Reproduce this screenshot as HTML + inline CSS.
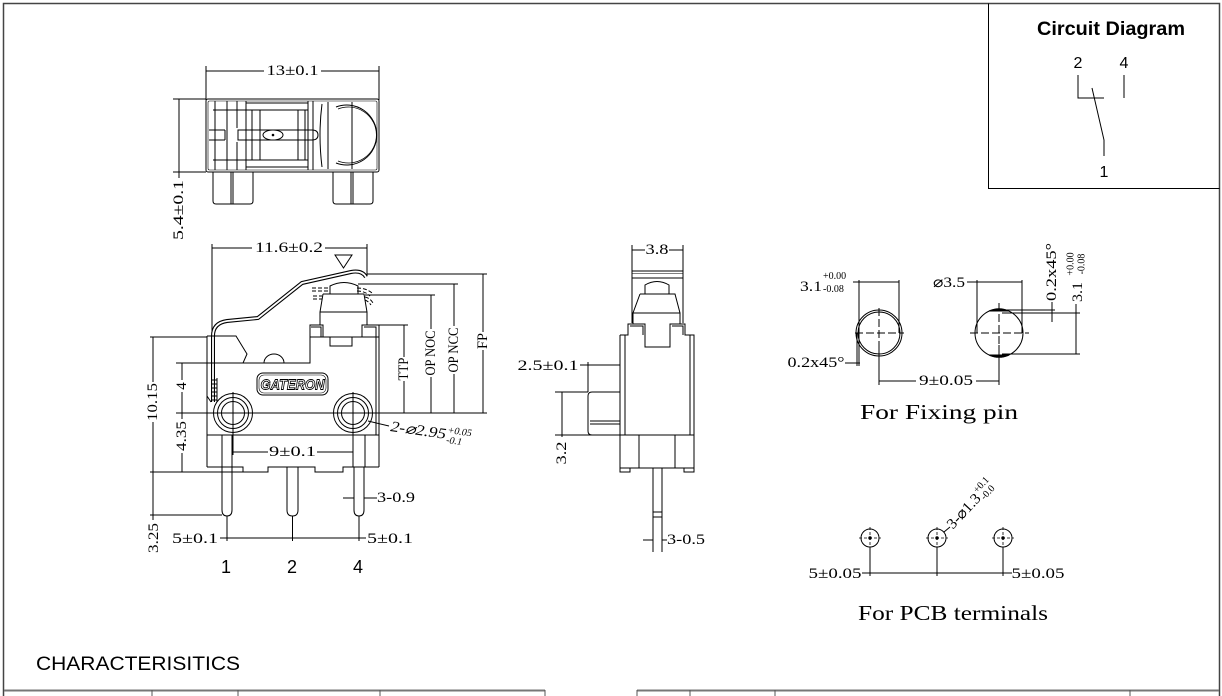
<!DOCTYPE html>
<html><head><meta charset="utf-8">
<style>
html,body{margin:0;padding:0;background:#fff;}
svg{display:block;}
.d{font-family:"Liberation Serif","Noto Serif CJK SC",serif;font-size:15px;fill:#000;stroke:none;}
.s{font-family:"Liberation Serif","Noto Serif CJK SC",serif;font-size:10px;fill:#000;stroke:none;}
.a{font-family:"Liberation Sans",Arial,sans-serif;fill:#000;stroke:none;}
</style></head><body>
<svg width="1222" height="696" viewBox="0 0 1222 696" xmlns="http://www.w3.org/2000/svg">
<g fill="none" stroke="#000" stroke-width="1">
<!-- frame -->
<path d="M3.5 696 V3.5 H1219.5 V696" stroke="#444" stroke-width="1.5"/>
<path d="M988.5 3.5 V188.5 H1219.5"/>
<path d="M4 690.5 H545 M637 690.5 H1219" stroke="#777" stroke-width="2"/>
<path d="M152 690 V696 M238 690 V696 M380 690 V696 M545 690 V696 M637 690 V696 M690 690 V696 M775 690 V696 M1130 690 V696" stroke="#555"/>

<!-- circuit diagram -->
<path d="M1078 75 V98 H1104 M1124 75 V98 M1092 88 L1104 140 V156"/>

<!-- ===== TOP VIEW ===== -->
<path d="M206 66 V100 M379 66 V100 M206 71 H264 M321 71 H379"/>
<rect x="206" y="99" width="173" height="73" rx="2"/>
<rect x="208" y="101" width="169" height="69" rx="1.5" stroke-width="0.6"/>
<path d="M215 101 V170 M227 101 V170 M237 101 V128 M237 142 V170 M246 101 V170 M213 110 H246 M213 160 H246"/>
<path d="M246 103 H308 M246 110 H308 M246 160 H308 M246 167 H308"/>
<path d="M252 110 V160 M260 110 V160 M298 110 V160 M305 110 V160 M308 101 V170 M313 101 V170"/>
<path d="M209 130 H225 M209 140 H225 M225 130 V140"/>
<path d="M238 130 H312 Q318 130 318 135 Q318 140 312 140 H238 Z"/>
<ellipse cx="273" cy="135" rx="10" ry="5"/>
<circle cx="273" cy="135" r="0.8" fill="#000"/>
<path d="M328 102 V169 M352 102 V169"/>
<path d="M336 107 A30 30 0 1 1 336 163" />
<path d="M338 109 A28 28 0 1 1 338 161" stroke-width="0.7"/>
<path d="M322 104 Q318 135 322 167"/>
<path d="M213 172 V201 Q213 204 216 204 H250 Q253 204 253 201 V172 M231 172 V204 M233 172 V204"/>
<path d="M333 172 V201 Q333 204 336 204 H370 Q373 204 373 201 V172 M351 172 V204 M353 172 V204"/>
<path d="M173 99 H206 M173 172 H206 M179 99 V178"/>

<!-- ===== FRONT VIEW ===== -->
<!-- 11.6 dim -->
<path d="M212 244 V337 M367 244 V276 M212 248 H252 M325 248 H367"/>
<path d="M335 255 H352 L343.5 268 Z"/>
<!-- lever -->
<path d="M213 402 V336 Q213 323 227 321 L258 318 L302 283 L351 272 Q362 270 366 277" stroke-width="4"/>
<path d="M213 402 V336 Q213 323 227 321 L258 318 L302 283 L351 272 Q362 270 366 277" stroke="#fff" stroke-width="1.8"/>
<!-- plunger -->
<path d="M330 294 V286 Q344 279 358 286 V294"/>
<path d="M323 294 H364 L367 312 V325 M323 294 L320 312 V325 M320 312 H367"/>
<path d="M312 288 H330 M312 291 H330 M313 296 H322 M313 299 H322 M357 288 Q366 288 372 293 M357 291 Q365 291 370 296 M365 297 Q370 298 373 303 M365 300 Q368 301 371 305" stroke-dasharray="4 2"/>
<!-- body -->
<path d="M207 336 V467 M207 435 H379"/>
<path d="M207 336 H213 M213 336 H236 L247 354 L243 363 H310 V325 H323 V337 H330 V346 H352 V337 H362 V325 H379 V467"/>
<path d="M311 327 H321 V337 M364 327 H376 V337 M310 337 H379 M376 337 V435"/>
<path d="M207 396 L211 402 M212 380 H217 M212 384 H217 M212 388 H217 M212 392 H217 M212 396 H217 M212 400 H217 M217 378 V402"/>
<path d="M264 363 A10 9 0 0 1 284 363"/>
<rect x="257" y="373" width="71" height="22" rx="6"/>
<rect x="259" y="375" width="67" height="18" rx="5" stroke-width="0.6"/>
<!-- holes -->
<circle cx="233" cy="413" r="19.5"/>
<circle cx="233" cy="413" r="15.5"/>
<circle cx="233" cy="413" r="11.5"/>
<circle cx="353" cy="413" r="19.5"/>
<circle cx="353" cy="413" r="15.5"/>
<circle cx="353" cy="413" r="11.5"/>
<path d="M233 392 V455 M353 392 V455 M229 413 H237 M349 413 H357"/>
<!-- base -->
<path d="M207 467 H243 V472 H268 V467 H315 V472 H343 V467 H379"/>
<path d="M222 435 V467 M232 435 V467 M353 435 V467 M365 435 V467"/>
<!-- pins -->
<path d="M222 467 V510 Q222 516 227 516 Q232 516 232 510 V467"/>
<path d="M287 467 V510 Q287 516 292.5 516 Q298 516 298 510 V467"/>
<path d="M354 467 V510 Q354 516 359 516 Q364 516 364 510 V467"/>
<!-- front dims -->
<path d="M150 337 H207 M176 363 H243 M176 413 H487 M150 472 H243 M150 515 H222"/>
<path d="M153 337 V382 M153 422 V520 M182 363 V380 M182 392 V419 M182 453 V472"/>
<path d="M379 325 H408 M365 295 H435 M358 284 H458 M367 274 H487"/>
<path d="M404 325 V357 M404 381 V413 M431 295 V329 M431 377 V413 M454 284 V326 M454 374 V413 M483 274 V332 M483 350 V413"/>
<path d="M233 452 H268 M317 452 H353"/>
<path d="M368 421 L389 426"/>
<path d="M343 498 H354 M364 498 H377"/>
<path d="M227 516 V541 M292.5 516 V541 M359 516 V541 M220 538 H366"/>

<!-- ===== SIDE VIEW ===== -->
<path d="M632 245 V323 M683 245 V323 M632 250 H645 M669 250 H683"/>
<rect x="632" y="271" width="51" height="7"/>
<path d="M632 273.5 H683" stroke-width="0.6"/>
<path d="M645 294 V285 Q657 278 669 285 V294 H645"/>
<path d="M640 294 H675 L680 313 V324 M640 294 L633 313 V324 M633 313 H680"/>
<path d="M620 335 H628 V324 H645 V347 H670 V324 H685 V335 H694 V435 M620 335 V435 M625 335 V435 M690 335 V435"/>
<path d="M630 326 H643 V335 M672 326 H683 V335"/>
<path d="M620 435 H694 V468 H620 Z M639 435 V468 M675 435 V468 M620 468 V472 H630 V468 M684 468 V472 H694 V468"/>
<path d="M620 392 H592 Q588 392 588 396 V431 Q588 435 592 435 H620 M590 421 H620 M590 424 H620"/>
<path d="M588 362 V392 M580 365 H620"/>
<path d="M555 392 H588 M555 435 H620 M562 392 V437"/>
<path d="M653 468 V552 M662 468 V552 M653 512 H662 M653 517 H662"/>
<path d="M643 540 H653 M662 540 H667"/>

<!-- ===== FIXING PIN ===== -->
<circle cx="879" cy="333" r="23"/>
<circle cx="879" cy="333" r="21"/>
<path d="M855 333 H904 M879 308 V358" stroke-dasharray="8 3"/>
<path d="M859 280 V333 M899 280 V333 M853 282 H899"/>
<path d="M845 363 H860 M857 333 V366 M859 333 V366"/>
<path d="M879 345 V385 M999 345 V385 M879 381 H916 M976 381 H999"/>
<circle cx="999" cy="333" r="24"/>
<path d="M989 311 A24 24 0 0 1 1009 311 Z M989 355 A24 24 0 0 0 1009 355 Z" fill="#000"/>
<path d="M970 333 H1029 M999 303 V362" stroke-dasharray="8 3"/>
<path d="M977 280 V333 M1022 280 V333 M967 282 H1022"/>
<path d="M1002 310 H1055 M1002 313 H1080 M1002 354 H1080 M1076 304 V354 M1052 302 V322"/>

<!-- ===== PCB ===== -->
<circle cx="870" cy="538" r="9"/>
<circle cx="937" cy="538" r="9"/>
<circle cx="1003" cy="538" r="9"/>
<path d="M859 538 H881 M870 527 V549 M926 538 H948 M937 527 V549 M992 538 H1014 M1003 527 V549" stroke-dasharray="3 2" stroke-width="0.8"/>
<circle cx="870" cy="538" r="1.2" fill="#000"/>
<circle cx="937" cy="538" r="1.2" fill="#000"/>
<circle cx="1003" cy="538" r="1.2" fill="#000"/>
<path d="M870 547 V576 M937 547 V576 M1003 547 V576 M862 573 H1012"/>
<path d="M944 532 L950 527"/>
</g>

<!-- ===== TEXT ===== -->
<text class="a" x="1111" y="35" text-anchor="middle" font-size="19" font-weight="bold" textLength="148" lengthAdjust="spacingAndGlyphs">Circuit Diagram</text>
<text class="a" x="1078" y="68" text-anchor="middle" font-size="16">2</text>
<text class="a" x="1124" y="68" text-anchor="middle" font-size="16">4</text>
<text class="a" x="1104" y="177" text-anchor="middle" font-size="16">1</text>

<text class="a" x="36" y="670" font-size="19" textLength="204" lengthAdjust="spacingAndGlyphs">CHARACTERISITICS</text>

<text class="a" x="226" y="573" text-anchor="middle" font-size="18">1</text>
<text class="a" x="292" y="573" text-anchor="middle" font-size="18">2</text>
<text class="a" x="358" y="573" text-anchor="middle" font-size="18">4</text>

<g class="d" text-anchor="middle" dominant-baseline="central">
<text x="292.5" y="71" textLength="52" lengthAdjust="spacingAndGlyphs">13±0.1</text>
<text transform="translate(179,210) rotate(-90)" textLength="60" lengthAdjust="spacingAndGlyphs">5.4±0.1</text>
<text x="289" y="248" textLength="68" lengthAdjust="spacingAndGlyphs">11.6±0.2</text>
<text transform="translate(153,402) rotate(-90)" textLength="38" lengthAdjust="spacingAndGlyphs">10.15</text>
<text transform="translate(182,386) rotate(-90)">4</text>
<text transform="translate(182,436) rotate(-90)" textLength="30" lengthAdjust="spacingAndGlyphs">4.35</text>
<text transform="translate(154,538) rotate(-90)" textLength="30" lengthAdjust="spacingAndGlyphs">3.25</text>
<text transform="translate(404,369) rotate(-90)" textLength="23" lengthAdjust="spacingAndGlyphs">TTP</text>
<text transform="translate(431,353) rotate(-90)" textLength="45" lengthAdjust="spacingAndGlyphs">OP NOC</text>
<text transform="translate(454,350) rotate(-90)" textLength="45" lengthAdjust="spacingAndGlyphs">OP NCC</text>
<text transform="translate(483,341) rotate(-90)" textLength="16" lengthAdjust="spacingAndGlyphs">FP</text>
<text x="292.5" y="452" textLength="47" lengthAdjust="spacingAndGlyphs">9±0.1</text>
<text x="396" y="498" textLength="38" lengthAdjust="spacingAndGlyphs">3-0.9</text>
<text x="195" y="539" textLength="46" lengthAdjust="spacingAndGlyphs">5±0.1</text>
<text x="390" y="539" textLength="46" lengthAdjust="spacingAndGlyphs">5±0.1</text>

<text x="657" y="250" textLength="23" lengthAdjust="spacingAndGlyphs">3.8</text>
<text x="548" y="366" textLength="61" lengthAdjust="spacingAndGlyphs">2.5±0.1</text>
<text transform="translate(562,453) rotate(-90)" textLength="23" lengthAdjust="spacingAndGlyphs">3.2</text>
<text x="686" y="540" textLength="38" lengthAdjust="spacingAndGlyphs">3-0.5</text>

<text x="811" y="287" textLength="22" lengthAdjust="spacingAndGlyphs">3.1</text>
<text x="816" y="363" textLength="57" lengthAdjust="spacingAndGlyphs">0.2x45°</text>
<text x="946" y="381" textLength="54" lengthAdjust="spacingAndGlyphs">9±0.05</text>
<text x="949" y="283" textLength="32" lengthAdjust="spacingAndGlyphs">⌀3.5</text>
<text transform="translate(1052,272) rotate(-90)" textLength="58" lengthAdjust="spacingAndGlyphs">0.2x45°</text>
<text transform="translate(1078,292) rotate(-90)" textLength="20" lengthAdjust="spacingAndGlyphs">3.1</text>
<text x="939" y="412" font-size="21" textLength="158" lengthAdjust="spacingAndGlyphs">For Fixing pin</text>

<text x="835" y="574" textLength="53" lengthAdjust="spacingAndGlyphs">5±0.05</text>
<text x="1038" y="574" textLength="53" lengthAdjust="spacingAndGlyphs">5±0.05</text>
<text x="953" y="613" font-size="21" textLength="190" lengthAdjust="spacingAndGlyphs">For PCB terminals</text>
</g>

<!-- superscripts -->
<text class="s" x="823" y="279">+0.00</text>
<text class="s" x="823" y="292">-0.08</text>
<g class="s" text-anchor="middle" dominant-baseline="central">
<text transform="translate(1071,264) rotate(-90)">+0.00</text>
<text transform="translate(1082,264) rotate(-90)">-0.08</text>
</g>

<g transform="translate(390,431) rotate(8)">
<text class="d" x="0" y="0" font-style="italic" textLength="56" lengthAdjust="spacingAndGlyphs">2-⌀2.95</text>
<text class="s" x="57" y="-6" font-style="italic">+0.05</text>
<text class="s" x="57" y="4" font-style="italic">-0.1</text>
</g>

<g transform="translate(950,527) rotate(-47)">
<text class="d" x="0" y="4" font-size="14" textLength="42" lengthAdjust="spacingAndGlyphs">3-⌀1.3</text>
<text class="s" x="43" y="-3">+0.1</text>
<text class="s" x="43" y="7">-0.0</text>
</g>

<text x="292.5" y="389.5" text-anchor="middle" font-family="Liberation Sans, sans-serif" font-size="15" font-weight="bold" font-style="italic" fill="#fff" stroke="#000" stroke-width="0.9" textLength="64" lengthAdjust="spacingAndGlyphs">GATERON</text>
</svg>
</body></html>
